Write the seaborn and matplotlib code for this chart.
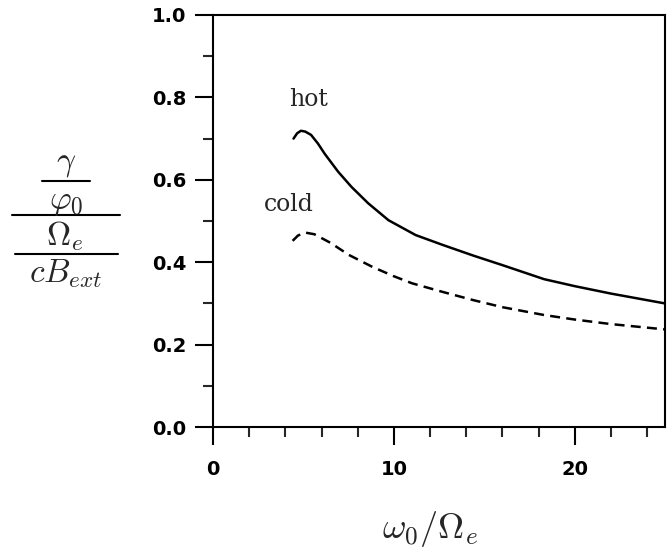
import matplotlib
matplotlib.use("Agg")
import matplotlib.pyplot as plt
from matplotlib.lines import Line2D
from matplotlib.ticker import MultipleLocator, FormatStrFormatter
import seaborn as sns
import pandas as pd

# values
hot_x = [4.45, 4.65, 4.86, 5.1, 5.42, 5.8, 6.16, 6.91, 7.65, 8.58, 9.7, 11.2, 12.7, 14.4, 16.0, 18.3, 20.0, 22.0, 25.0]
hot_y = [0.700, 0.713, 0.719, 0.717, 0.709, 0.688, 0.664, 0.620, 0.583, 0.543, 0.502, 0.466, 0.442, 0.416, 0.393, 0.359, 0.342, 0.324, 0.300]
cold_x = [4.4, 4.7, 5.1, 5.6, 6.5, 7.5, 8.8, 10.0, 11.0, 12.7, 14.4, 16.0, 18.3, 20.0, 22.0, 25.0]
cold_y = [0.452, 0.465, 0.472, 0.468, 0.447, 0.418, 0.389, 0.366, 0.349, 0.328, 0.308, 0.291, 0.272, 0.261, 0.250, 0.237]

hot = pd.DataFrame({"x": hot_x, "y": hot_y})
cold = pd.DataFrame({"x": cold_x, "y": cold_y})

sns.set_style("ticks")
plt.rcParams["mathtext.fontset"] = "cm"
plt.rcParams["font.family"] = ["DejaVu Sans"]

W, H = 672, 554
fig = plt.figure(figsize=(W / 100, H / 100), dpi=100)
ax = fig.add_axes([0.317, 0.229, 0.673, 0.744])

sns.lineplot(data=hot, x="x", y="y", ax=ax, color="black", lw=1.8, estimator=None, sort=False)
sns.lineplot(data=cold, x="x", y="y", ax=ax, color="black", lw=1.8, estimator=None, sort=False,
             linestyle=(0, (4, 2.5)))

ax.set_xlim(0, 25)
ax.set_ylim(0, 1.0)
ax.xaxis.set_major_locator(MultipleLocator(10))
ax.xaxis.set_minor_locator(MultipleLocator(2))
ax.yaxis.set_major_locator(MultipleLocator(0.2))
ax.yaxis.set_minor_locator(MultipleLocator(0.1))
ax.xaxis.set_major_formatter(FormatStrFormatter("%d"))
ax.yaxis.set_major_formatter(FormatStrFormatter("%.1f"))

for s in ax.spines.values():
    s.set_visible(True)
    s.set_linewidth(1.5)
    s.set_color("black")

ax.tick_params(which="major", direction="out", length=13, width=1.5,
               labelsize=14, colors="black", top=False, right=False)
ax.tick_params(which="minor", direction="out", length=7, width=1.5, top=False, right=False)
ax.tick_params(axis="y", which="major", pad=6)
ax.tick_params(axis="x", which="major", pad=11)
for lab in ax.get_xticklabels() + ax.get_yticklabels():
    lab.set_fontweight("bold")

ax.text(5.3, 0.795, "hot", fontsize=17, family="DejaVu Serif", ha="center", va="center")
ax.text(4.2, 0.54, "cold", fontsize=17, family="DejaVu Serif", ha="center", va="center")

ax.set_xlabel(r"$\omega_0/\Omega_e$", fontsize=26)
ax.xaxis.set_label_coords(0.48, -0.199)
ax.set_ylabel("")

# stacked fraction for the y label, laid out by hand (pixel positions)
def fx(px):
    return px / W

def fy(py):
    return 1 - py / H

cx = 66
fig.text(fx(cx), fy(179), r"$\gamma$", fontsize=24, ha="center", va="bottom")
fig.text(fx(cx), fy(185), r"$\varphi_0$", fontsize=24, ha="center", va="top")
fig.text(fx(cx - 1), fy(219), r"$\Omega_e$", fontsize=24, ha="center", va="top")
fig.text(fx(cx), fy(257), r"$cB_{ext}$", fontsize=24, ha="center", va="top")
for y, x0, x1 in [(181, 42, 90), (215, 12, 120), (254, 15, 118)]:
    fig.add_artist(Line2D([fx(x0), fx(x1)], [fy(y), fy(y)], color="black", lw=1.5,
                          transform=fig.transFigure))

fig.savefig("out.png", dpi=100)
